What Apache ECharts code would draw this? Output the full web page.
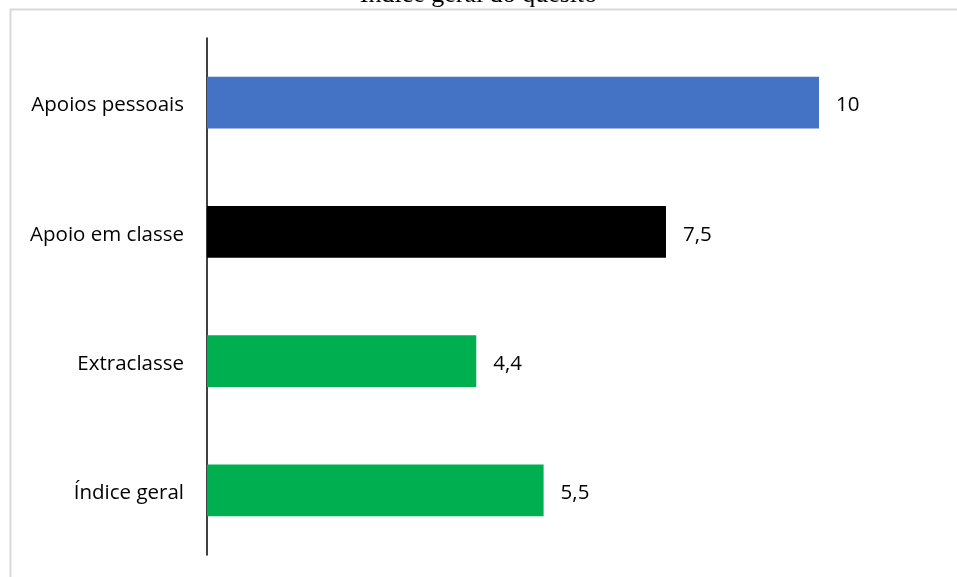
<!DOCTYPE html>
<html>
<head>
<meta charset="utf-8">
<script src="https://cdn.jsdelivr.net/npm/echarts@6/dist/echarts.min.js"></script>
<style>
  html, body { margin: 0; padding: 0; background: #fff; }
  #chart { width: 957px; height: 577px; }
</style>
</head>
<body>
<div id="chart"></div>
<script>
// Categories, top to bottom as displayed
const categories = ['Apoios pessoais', 'Apoio em classe', 'Extraclasse', 'Índice geral'];
const values = [10, 7.5, 4.4, 5.5];
const barColors = ['#4472C4', '#000000', '#00B050', '#00B050'];
const titleText = 'Índice geral do quesito';

const chart = echarts.init(document.getElementById('chart'));
const font = '"Open Sans", "Noto Sans", sans-serif';

chart.setOption({
  animation: false,
  backgroundColor: '#ffffff',
  graphic: [
    {
      type: 'rect',
      shape: { x: 10.5, y: 9.5, width: 1000, height: 1000 },
      style: { fill: 'none', stroke: '#d9d9d9', lineWidth: 2 },
      z: 0
    },
    {
      type: 'text',
      left: 'center',
      top: -18,
      style: {
        text: titleText,
        font: '26px "Liberation Serif", "DejaVu Serif", serif',
        fill: '#000'
      },
      z: 10
    }
  ],
  grid: { left: 207, top: 38, width: 612, bottom: 22 },
  xAxis: {
    type: 'value',
    min: 0,
    max: 10,
    show: false
  },
  yAxis: {
    type: 'category',
    data: categories,
    inverse: true,
    axisLine: { show: true, lineStyle: { color: '#000', width: 1.5 } },
    axisTick: { show: false },
    axisLabel: {
      margin: 23,
      color: '#000',
      formatter: v => '{c|' + v + '}',
      rich: {
        c: {
          fontFamily: font,
          fontSize: 20.5,
          color: '#000',
          padding: [6, 0, 0, 0]
        }
      }
    }
  },
  series: [{
    type: 'bar',
    barWidth: '40%',
    data: values.map((v, i) => ({ value: v, itemStyle: { color: barColors[i] } })),
    label: {
      show: true,
      position: 'right',
      distance: 17,
      offset: [0, 3],
      fontFamily: font,
      fontSize: 20.5,
      color: '#000',
      formatter: p => String(p.value).replace('.', ',')
    }
  }]
});
</script>
</body>
</html>
